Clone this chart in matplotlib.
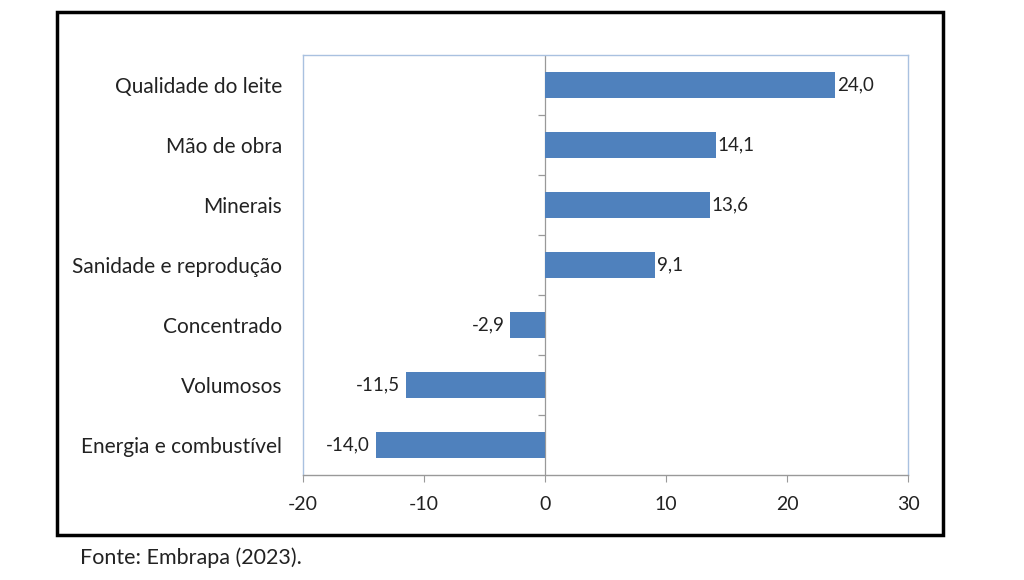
import matplotlib.pyplot as plt
from matplotlib.patches import Rectangle

# ===================== DATA =====================
categories = ["Qualidade do leite", "Mão de obra", "Minerais",
              "Sanidade e reprodução", "Concentrado", "Volumosos",
              "Energia e combustível"]
values = [24.0, 14.1, 13.6, 9.1, -2.9, -11.5, -14.0]
x_ticks = [-20, -10, 0, 10, 20, 30]
source_text = "Fonte: Embrapa (2023)."

BAR_COLOR = "#4F81BD"
FONT = ["Lato", "DejaVu Sans"]

plt.rcParams['font.family'] = FONT

fig = plt.figure(figsize=(10.24, 5.8), dpi=100)
W, H = 1024, 580
# plot area in pixels: x 303..908, y 55..475
ax = fig.add_axes([303 / W, 1 - 475 / H, (908 - 303) / W, (475 - 55) / H])

n = len(categories)
ypos = list(range(n - 1, -1, -1))
ax.barh(ypos, values, height=0.42, color=BAR_COLOR, zorder=3)

for y, v in zip(ypos, values):
    lbl = f"{v:.1f}".replace(".", ",")
    if v >= 0:
        ax.annotate(lbl, (v, y), xytext=(1.5, 0), textcoords="offset points",
                    ha="left", va="center", fontsize=13.5, color="#222222")
    else:
        ax.annotate(lbl, (v, y), xytext=(-4, 0), textcoords="offset points",
                    ha="right", va="center", fontsize=13.5, color="#222222")

ax.set_xlim(-20, 30)
ax.set_ylim(-0.5, n - 0.5)
ax.set_xticks(x_ticks)
ax.set_xticklabels([str(t) for t in x_ticks], fontsize=14, color="#222222")
ax.set_yticks(ypos)
ax.set_yticklabels(categories, fontsize=15, color="#222222")
ax.tick_params(axis="y", length=0, pad=15)
ax.tick_params(axis="x", length=5, width=0.8, color="#999999", pad=10)

for side in ["top", "left", "right"]:
    ax.spines[side].set_color("#A9C1E0")
    ax.spines[side].set_linewidth(1.0)
ax.spines["bottom"].set_color("#999999")
ax.spines["bottom"].set_linewidth(1.0)

# zero line with small category separators
ax.axvline(0, color="#999999", lw=0.9, zorder=2)
seps = [i + 0.5 for i in range(n - 1)]
ax.plot([0] * len(seps), seps, ls="none", marker=0, markersize=5,
        color="#999999", markeredgewidth=0.9, zorder=2, clip_on=False)

# outer black frame
fig.patches.append(Rectangle((57 / W, 1 - 535 / H), (943 - 57) / W, (535 - 12) / H,
                             transform=fig.transFigure, fill=False,
                             edgecolor="black", linewidth=2.5))

fig.text(80 / W, 1 - 558 / H, source_text, fontsize=15.5, color="#222222",
         ha="left", va="center")

plt.savefig("out.png", dpi=100)
